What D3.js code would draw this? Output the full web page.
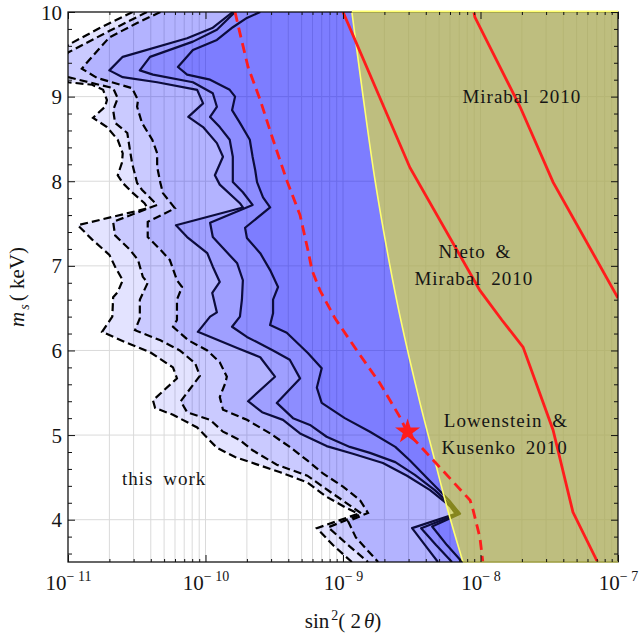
<!DOCTYPE html>
<html>
<head>
<meta charset="utf-8">
<script src="https://cdn.jsdelivr.net/npm/d3@7"></script>
<style>
  body { margin: 0; background: #fff; }
  text { font-family: "Liberation Serif", "Times New Roman", serif; fill: #151515; }
</style>
</head>
<body>
<svg id="chart" width="639" height="637"></svg>
<script>
// ---- data: [sin^2(2 theta), m_s (keV)] ----
const xTicks = [1e-11, 1e-10, 1e-9, 1e-8, 1e-7];
const xTickExp = ["11", "10", "9", "8", "7"];
const yTicks = [4, 5, 6, 7, 8, 9, 10];
const gridM = [4, 5, 6, 7, 8, 9];

// contours of "this work", outermost (dashed) to innermost (solid)
const dashed1 = [[2.95e-11,10],[1.7e-11,9.81],[1.0e-11,9.61],[7.4e-12,9.42],[1.0e-11,9.17],[1.5e-11,9.14],[1.8e-11,9.08],[1.92e-11,8.96],[1.86e-11,8.88],[1.52e-11,8.75],[1.92e-11,8.64],[2.3e-11,8.49],[2.5e-11,8.33],[2.47e-11,8.22],[2.3e-11,8.07],[2.5e-11,7.98],[2.92e-11,7.87],[3.6e-11,7.74],[3.8e-11,7.68],[1.18e-11,7.48],[1.5e-11,7.31],[2.0e-11,7.13],[2.2e-11,6.99],[2.5e-11,6.83],[2.3e-11,6.69],[2.13e-11,6.63],[2.1e-11,6.40],[1.77e-11,6.22],[2.6e-11,6.10],[3.95e-11,5.98],[5.8e-11,5.80],[6.2e-11,5.67],[4.15e-11,5.41],[4.3e-11,5.32],[5.8e-11,5.24],[8.7e-11,5.09],[1.21e-10,4.85],[1.64e-10,4.74],[2.3e-10,4.66],[3.5e-10,4.56],[5.5e-10,4.44],[7.6e-10,4.27],[1.03e-9,4.15],[1.29e-9,4.07],[6.45e-10,3.90],[8.45e-10,3.70],[1.16e-9,3.5]];
const dashed2 = [[3.75e-11,10],[1.86e-11,9.75],[1.0e-11,9.52],[8.5e-12,9.37],[1.0e-11,9.23],[2.13e-11,9.10],[2.3e-11,8.98],[2.13e-11,8.84],[2.2e-11,8.69],[2.7e-11,8.57],[2.82e-11,8.37],[2.92e-11,8.22],[3.18e-11,7.98],[3.45e-11,7.90],[4.45e-11,7.72],[2.13e-11,7.52],[2.2e-11,7.36],[2.82e-11,7.19],[3.23e-11,7.07],[3.5e-11,6.87],[3.8e-11,6.80],[3.33e-11,6.60],[3.33e-11,6.38],[3.07e-11,6.24],[4.7e-11,6.12],[6.5e-11,6.00],[8.4e-11,5.85],[9.1e-11,5.70],[6.6e-11,5.40],[7.35e-11,5.27],[1.08e-10,5.18],[1.34e-10,5.04],[1.78e-10,4.94],[2.2e-10,4.82],[3.3e-10,4.65],[5.5e-10,4.52],[8.05e-10,4.33],[1.12e-9,4.17],[1.37e-9,4.07],[7.8e-10,3.91],[1.09e-9,3.70],[1.52e-9,3.5]];
const dashed3 = [[4.7e-11,10],[3.18e-11,9.87],[2.0e-11,9.70],[1.37e-11,9.40],[1.26e-11,9.33],[1.63e-11,9.22],[2.92e-11,9.10],[3.23e-11,8.96],[3.18e-11,8.88],[3.45e-11,8.69],[4.1e-11,8.49],[4.45e-11,8.33],[4.45e-11,8.17],[4.7e-11,7.98],[4.9e-11,7.86],[6.0e-11,7.68],[3.8e-11,7.52],[3.8e-11,7.34],[4.7e-11,7.19],[5.5e-11,7.07],[6.2e-11,6.83],[6.75e-11,6.75],[6.2e-11,6.60],[6.2e-11,6.36],[5.8e-11,6.28],[7.5e-11,6.12],[1.03e-10,6.00],[1.27e-10,5.86],[1.43e-10,5.69],[1.39e-10,5.61],[1.27e-10,5.45],[1.34e-10,5.30],[2.0e-10,5.18],[2.95e-10,5.02],[4.1e-10,4.86],[5.5e-10,4.70],[7.1e-10,4.55],[1.0e-9,4.39],[1.33e-9,4.23],[1.52e-9,4.08],[1.09e-9,3.98],[1.24e-9,3.79],[1.8e-9,3.5]];
const solid1 = [[1.58e-10,10],[1.12e-10,9.81],[7.35e-11,9.69],[2.5e-11,9.47],[2.0e-11,9.31],[2.5e-11,9.23],[4.45e-11,9.17],[8.7e-11,9.08],[9.6e-11,8.92],[7.5e-11,8.76],[9.6e-11,8.64],[1.21e-10,8.45],[1.34e-10,8.29],[1.17e-10,8.07],[1.27e-10,7.96],[1.78e-10,7.74],[1.87e-10,7.69],[6.1e-11,7.48],[7.35e-11,7.34],[1.03e-10,7.15],[1.13e-10,6.99],[1.27e-10,6.81],[1.12e-10,6.68],[1.21e-10,6.45],[1.08e-10,6.40],[8.8e-11,6.22],[1.7e-10,6.03],[2.5e-10,5.92],[3.2e-10,5.69],[2.04e-10,5.40],[2.58e-10,5.27],[3.66e-10,5.18],[4.87e-10,5.02],[7.6e-10,4.87],[1.18e-9,4.78],[1.95e-9,4.67],[2.92e-9,4.52],[4.3e-9,4.35],[6.0e-9,4.16],[6.6e-9,4.07],[3.18e-9,3.90],[3.95e-9,3.70],[4.9e-9,3.5]];
const solid2 = [[1.64e-10,10],[1.21e-10,9.79],[8.1e-11,9.65],[3.95e-11,9.47],[3.33e-11,9.31],[4.15e-11,9.26],[8.1e-11,9.17],[1.13e-10,9.04],[1.21e-10,8.88],[1.08e-10,8.76],[1.27e-10,8.64],[1.5e-10,8.49],[1.58e-10,8.29],[1.58e-10,8.13],[1.58e-10,7.99],[1.87e-10,7.87],[2.2e-10,7.72],[1.08e-10,7.51],[1.13e-10,7.34],[1.34e-10,7.21],[1.7e-10,7.03],[1.87e-10,6.83],[1.84e-10,6.60],[1.78e-10,6.40],[1.56e-10,6.28],[2.0e-10,6.16],[3.1e-10,6.00],[4.1e-10,5.89],[4.87e-10,5.67],[3.3e-10,5.38],[4.33e-10,5.20],[5.75e-10,5.12],[7.6e-10,4.98],[1.12e-9,4.86],[1.57e-9,4.79],[2.4e-9,4.68],[3.33e-9,4.53],[4.65e-9,4.35],[6.2e-9,4.16],[6.9e-9,4.07],[3.7e-9,3.90],[4.75e-9,3.70],[6.2e-9,3.5]];
const solid3 = [[2.5e-10,10],[2.0e-10,9.93],[1.58e-10,9.82],[1.21e-10,9.67],[8.1e-11,9.55],[6.3e-11,9.35],[7.35e-11,9.26],[1.08e-10,9.20],[1.5e-10,9.08],[1.64e-10,9.00],[1.56e-10,8.84],[1.78e-10,8.69],[2.1e-10,8.49],[2.2e-10,8.29],[2.3e-10,8.13],[2.37e-10,7.99],[2.62e-10,7.81],[2.95e-10,7.69],[1.94e-10,7.45],[2.0e-10,7.33],[2.5e-10,7.15],[2.95e-10,6.95],[3.37e-10,6.75],[3.1e-10,6.60],[3.1e-10,6.44],[2.95e-10,6.30],[3.9e-10,6.21],[5.55e-10,5.97],[7.0e-10,5.79],[6.45e-10,5.56],[7.0e-10,5.38],[1.03e-9,5.20],[1.57e-9,5.04],[2.4e-9,4.86],[3.07e-9,4.70],[4.1e-9,4.49],[5.9e-9,4.23],[7.1e-9,4.07],[4.45e-9,3.92],[5.7e-9,3.70],[7.35e-9,3.5]];

// other bounds
const lowensteinBound = [[1.16e-9,10],[1.4e-9,9.0],[1.71e-9,8.01],[2.2e-9,6.99],[2.6e-9,6.40],[3.63e-9,5.38],[4.5e-9,4.79],[5.7e-9,4.15],[7.45e-9,3.5]];
const redDashed = [[1.64e-10,10],[1.78e-10,9.75],[2.04e-10,9.35],[2.5e-10,8.96],[3.1e-10,8.49],[3.9e-10,8.01],[4.87e-10,7.60],[5.55e-10,7.19],[5.95e-10,6.95],[6.8e-10,6.71],[8.75e-10,6.38],[1.26e-9,6.00],[1.86e-9,5.61],[2.6e-9,5.21],[2.92e-9,5.04],[8.4e-9,4.23],[8.85e-9,4.11],[9.9e-9,3.79],[1.04e-8,3.5]];
const nietoMirabal = [[1.0e-9,10],[3.07e-9,8.16],[9.9e-9,6.71],[1.43e-8,6.36],[2.04e-8,6.04],[3.37e-8,5.06],[4.7e-8,4.09],[7.1e-8,3.5]];
const mirabal = [[8.95e-9,10],[9.1e-9,9.94],[1.94e-8,8.88],[3.37e-8,7.99],[1.0e-7,6.62]];
const starPoint = [2.95e-9, 5.04];

const annotations = [
  { text: "Mirabal 2010", s: 2.0e-8, m: 8.92 },
  { text: "Nieto &", s: 9.1e-9, m: 7.09 },
  { text: "Mirabal 2010", s: 8.95e-9, m: 6.77 },
  { text: "Lowenstein &", s: 1.53e-8, m: 5.09 },
  { text: "Kusenko 2010", s: 1.5e-8, m: 4.78 },
  { text: "this work", s: 5.0e-11, m: 4.41 }
];

// ---- layout ----
const width = 639, height = 637;
const plot = { left: 68, top: 12, right: 618, bottom: 562 };

const svg = d3.select("#chart");

const x = d3.scaleLog().domain([1e-11, 1e-7]).range([plot.left, plot.right]);
const y = d3.scaleLinear().domain([3.5, 10]).range([plot.bottom, plot.top]);

svg.append("defs").append("clipPath").attr("id", "clip")
    .append("rect")
    .attr("x", plot.left).attr("y", plot.top)
    .attr("width", plot.right - plot.left)
    .attr("height", plot.bottom - plot.top);

const inner = svg.append("g").attr("clip-path", "url(#clip)");

// grid first
const gridX = x.ticks().filter(v => v > 1.01e-11 && v < 0.99e-7);
inner.append("g")
    .selectAll("line")
    .data(gridX)
    .join("line")
    .attr("x1", d => x(d)).attr("x2", d => x(d))
    .attr("y1", plot.top).attr("y2", plot.bottom)
    .attr("stroke", "#dadada").attr("stroke-width", 1);

inner.append("g")
    .selectAll("line")
    .data(gridM)
    .join("line")
    .attr("x1", plot.left).attr("x2", plot.right)
    .attr("y1", d => y(d)).attr("y2", d => y(d))
    .attr("stroke", "#dadada").attr("stroke-width", 1);

const lineGen = d3.line().x(d => x(d[0])).y(d => y(d[1]));
const farRight = [[2e-7, 3.5], [2e-7, 10]];

// stacked translucent fills, one layer per contour
const contours = [dashed1, dashed2, dashed3, solid1, solid2, solid3];
contours.forEach(c => {
    inner.append("path")
        .attr("d", lineGen(c.concat(farRight)) + "Z")
        .attr("fill", "#0000ff")
        .attr("fill-opacity", 0.11);
});

[dashed1, dashed2, dashed3].forEach(c => {
    inner.append("path")
        .attr("d", lineGen(c))
        .attr("fill", "none")
        .attr("stroke", "#000")
        .attr("stroke-width", 2.2)
        .attr("stroke-dasharray", "8 4");
});

[solid1, solid2, solid3].forEach(c => {
    inner.append("path")
        .attr("d", lineGen(c))
        .attr("fill", "none")
        .attr("stroke", "#0c0c3c")
        .attr("stroke-width", 2.2)
        .attr("stroke-linejoin", "round");
});

// Lowenstein & Kusenko region (half transparent yellow)
const smoothGen = d3.line().x(d => x(d[0])).y(d => y(d[1])).curve(d3.curveCatmullRom);
inner.append("path")
    .attr("d", smoothGen(lowensteinBound) + `L${x(2e-7)},${y(3.5)}L${x(2e-7)},${y(10)}Z`)
    .attr("fill", "#ffff00")
    .attr("fill-opacity", 0.5);

inner.append("path")
    .attr("d", smoothGen(lowensteinBound))
    .attr("fill", "none")
    .attr("stroke", "#ffff70")
    .attr("stroke-width", 1.6);

// red bounds
inner.append("path")
    .attr("d", lineGen(redDashed))
    .attr("fill", "none")
    .attr("stroke", "#ff1c1c")
    .attr("stroke-width", 2.8)
    .attr("stroke-dasharray", "10 6");

[nietoMirabal, mirabal].forEach(c => {
    inner.append("path")
        .attr("d", lineGen(c))
        .attr("fill", "none")
        .attr("stroke", "#ff1c1c")
        .attr("stroke-width", 2.8);
});

svg.append("path")
    .attr("d", d3.symbol(d3.symbolStar).size(195)())
    .attr("transform", `translate(${x(starPoint[0])}, ${y(starPoint[1])})`)
    .attr("fill", "#ff1c1c");

// frame
svg.append("rect")
    .attr("x", plot.left).attr("y", plot.top)
    .attr("width", plot.right - plot.left)
    .attr("height", plot.bottom - plot.top)
    .attr("fill", "none")
    .attr("stroke", "#000")
    .attr("stroke-width", 1.2);

// yellow edge of the region along top and bottom
svg.append("line")
    .attr("x1", x(lowensteinBound[0][0])).attr("x2", plot.right)
    .attr("y1", plot.top - 0.5).attr("y2", plot.top - 0.5)
    .attr("stroke", "#ffff70").attr("stroke-width", 2);
svg.append("line")
    .attr("x1", x(lowensteinBound[lowensteinBound.length - 1][0])).attr("x2", plot.right)
    .attr("y1", plot.bottom).attr("y2", plot.bottom)
    .attr("stroke", "#ffff70").attr("stroke-width", 1.2);

// ticks (all pointing inward)
const minorM = d3.range(18, 51).map(i => i / 5).filter(v => !Number.isInteger(v));
const minorX = gridX.filter(v => !xTicks.includes(v));

const tickAxis = (gen, values, size, tx, ty) => {
    svg.append("g")
        .attr("transform", `translate(${tx}, ${ty})`)
        .call(gen.tickValues(values).tickSize(size).tickFormat(""))
        .call(g => g.select(".domain").remove())
        .call(g => g.selectAll("line").attr("stroke", "#111"));
};
tickAxis(d3.axisRight(y), yTicks, 7, plot.left, 0);
tickAxis(d3.axisRight(y), minorM, 4, plot.left, 0);
tickAxis(d3.axisLeft(y), yTicks, 7, plot.right, 0);
tickAxis(d3.axisLeft(y), minorM, 4, plot.right, 0);
tickAxis(d3.axisTop(x), xTicks, 7, 0, plot.bottom);
tickAxis(d3.axisTop(x), minorX, 3, 0, plot.bottom);
tickAxis(d3.axisBottom(x), xTicks, 7, 0, plot.top);
tickAxis(d3.axisBottom(x), minorX, 3, 0, plot.top);

// tick labels
svg.append("g")
    .attr("transform", `translate(${plot.left}, 0)`)
    .call(d3.axisLeft(y).tickValues(yTicks).tickSize(0).tickPadding(6).tickFormat(d3.format("d")))
    .call(g => g.select(".domain").remove())
    .call(g => g.selectAll("text")
        .attr("font-family", null)
        .attr("font-size", 21)
        .attr("dy", "0.34em"));

const xLab = svg.append("g")
    .attr("transform", `translate(0, ${plot.bottom})`)
    .call(d3.axisBottom(x).tickValues(xTicks).tickSize(0).tickFormat(""))
    .call(g => g.select(".domain").remove());

xLab.selectAll(".tick text")
    .attr("y", 28).attr("dy", null)
    .attr("font-family", null)
    .attr("font-size", 21)
    .each(function(d, i) {
        const t = d3.select(this);
        t.append("tspan").text("10");
        t.append("tspan").attr("font-size", 14).attr("dy", -9).text("\u2212 " + xTickExp[i]);
    });

// axis titles
const xTitle = svg.append("text")
    .attr("x", x(1e-9))
    .attr("y", 628)
    .attr("text-anchor", "middle")
    .attr("font-size", 21);
xTitle.append("tspan").text("sin");
xTitle.append("tspan").attr("font-size", 14).attr("dy", -8).attr("dx", 2).text("2");
xTitle.append("tspan").attr("dy", 8).text("( 2");
xTitle.append("tspan").attr("font-style", "italic").attr("dx", 3).text("\u03b8");
xTitle.append("tspan").text(")");

const yTitle = svg.append("text")
    .attr("transform", `translate(24, ${(plot.top + plot.bottom) / 2}) rotate(-90)`)
    .attr("text-anchor", "middle")
    .attr("font-size", 21);
yTitle.append("tspan").attr("font-style", "italic").text("m");
yTitle.append("tspan").attr("font-style", "italic").attr("font-size", 14).attr("dy", 5).attr("dx", 2).text("s");
yTitle.append("tspan").attr("dy", -5).attr("dx", 3).text("( keV)");

// region labels
svg.append("g")
    .selectAll("text")
    .data(annotations)
    .join("text")
    .attr("x", d => x(d.s))
    .attr("y", d => y(d.m))
    .attr("text-anchor", "middle")
    .attr("font-size", 19)
    .attr("letter-spacing", 1)
    .attr("word-spacing", 4)
    .text(d => d.text);
</script>
</body>
</html>
